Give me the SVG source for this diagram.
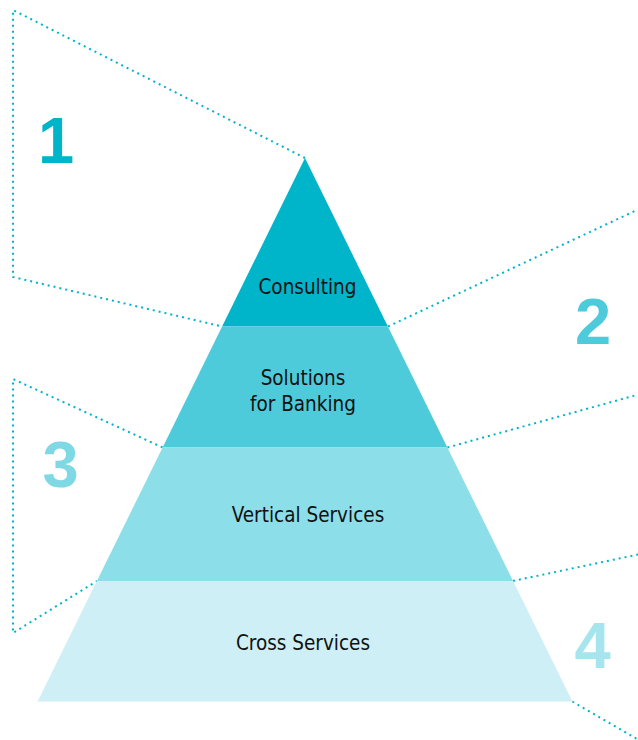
<svg xmlns="http://www.w3.org/2000/svg" width="638" height="740" viewBox="0 0 638 740">
<style>
.dot{fill:none;stroke:#00b4ca;stroke-width:2;stroke-dasharray:2 4}
.lbl{font-family:"DejaVu Sans Condensed","DejaVu Sans",sans-serif;font-stretch:condensed;font-size:20.5px;fill:#111;text-anchor:middle}
.num{font-family:"Liberation Sans",Arial,sans-serif;font-weight:bold;font-size:65px;text-anchor:middle}
</style>
<rect width="638" height="740" fill="#fff"/>
<g id="connectors">
<polyline class="dot" points="305,158 13,10 13,277 222,326.5"/>
<line class="dot" x1="388" y1="326.5" x2="638" y2="209.5"/>
<line class="dot" x1="447.4" y1="447.5" x2="638" y2="394.6"/>
<polyline class="dot" points="162.6,447.5 13,379 13,633 97,581"/>
<line class="dot" x1="513" y1="581" x2="638" y2="554.5"/>
<line class="dot" x1="572.4" y1="701.5" x2="638" y2="739.5"/>
</g>
<g id="consulting">
<polygon points="305,158 387.9,326.5 222.1,326.5" fill="#00b4ca"/>
<text class="lbl" x="307.5" y="294">Consulting</text>
</g>
<g id="solutions">
<polygon points="222.1,326.5 387.9,326.5 447.4,447.5 162.6,447.5" fill="#4ecbdb"/>
<text class="lbl" x="303" y="385">Solutions</text>
<text class="lbl" x="303" y="410.5">for Banking</text>
</g>
<g id="vertical">
<polygon points="162.6,447.5 447.4,447.5 513.1,581 96.9,581" fill="#8cdfe9"/>
<text class="lbl" x="308" y="522">Vertical Services</text>
</g>
<g id="cross">
<polygon points="96.9,581 513.1,581 572.4,701.5 37.6,701.5" fill="#cdeff5"/>
<text class="lbl" x="303" y="650">Cross Services</text>
</g>
<g id="numbers">
<text class="num" x="56" y="163" fill="#00b4ca">1</text>
<text class="num" x="593" y="344" fill="#4ecbdb">2</text>
<text class="num" x="60.5" y="487" fill="#7fd9e5">3</text>
<text class="num" x="592.5" y="668" fill="#a6e5ee">4</text>
</g>
</svg>
